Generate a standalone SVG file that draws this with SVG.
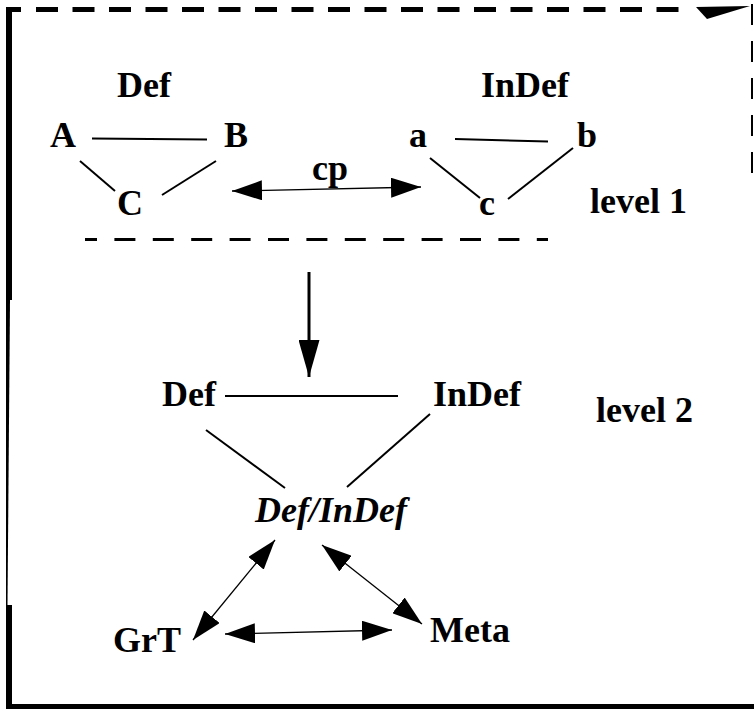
<svg xmlns="http://www.w3.org/2000/svg" width="754" height="709" viewBox="0 0 754 709">
  <style>
    .lbl { font-family: "Liberation Serif", "Times New Roman", serif; font-weight: bold; font-size: 36px; fill: #000; }
    .it { font-style: italic; }
    .edge { stroke: #000; stroke-width: 2; fill: none; }
    .thin { stroke: #000; stroke-width: 1.3; fill: none; }
  </style>
  <defs>
    <marker id="head" viewBox="0 0 30 20" refX="30" refY="10" markerWidth="30" markerHeight="20" markerUnits="userSpaceOnUse" orient="auto-start-reverse">
      <path d="M0,0 L30,10 L0,20 Z" fill="#000"/>
    </marker>
    <marker id="bigHead" viewBox="0 0 37 21" refX="37" refY="10.5" markerWidth="37" markerHeight="21" markerUnits="userSpaceOnUse" orient="auto">
      <path d="M0,0 L37,10.5 L0,21 Z" fill="#000"/>
    </marker>
  </defs>
  <rect width="754" height="709" fill="#fff"/>

  <!-- frame -->
  <g id="frame">
    <rect x="6" y="7" width="6" height="293" fill="#000"/>
    <polygon points="6,300 10,300 7.5,605 6,605" fill="#000"/>
    <rect x="6" y="605" width="6" height="104" fill="#000"/>
    <rect x="6" y="7" width="15" height="5" fill="#000"/>
    <line x1="36" y1="9.5" x2="680" y2="9.5" stroke="#000" stroke-width="5" stroke-dasharray="22 14.5"/>
    <polygon points="696,7 750,6 707,19" fill="#000"/>
    <line x1="752" y1="4" x2="752" y2="175" stroke="#000" stroke-width="2" stroke-dasharray="21 16"/>
    <rect x="12" y="704" width="742" height="5" fill="#000"/>
  </g>

  <!-- level separator -->
  <line x1="85" y1="239.5" x2="548" y2="239.5" stroke="#000" stroke-width="3" stroke-dasharray="21 17.4" stroke-dashoffset="9"/>

  <!-- level 1 -->
  <g id="def-title"><text class="lbl" x="117" y="97">Def</text></g>
  <g id="indef-title"><text class="lbl" x="481" y="97">InDef</text></g>
  <g id="node-A"><text class="lbl" x="50" y="147">A</text></g>
  <g id="node-B"><text class="lbl" x="224" y="147">B</text></g>
  <g id="node-C"><text class="lbl" x="117" y="215">C</text></g>
  <g id="node-a"><text class="lbl" x="409" y="147">a</text></g>
  <g id="node-b"><text class="lbl" x="577" y="147">b</text></g>
  <g id="node-c"><text class="lbl" x="479" y="215">c</text></g>
  <g id="cp-label"><text class="lbl" x="312" y="180">cp</text></g>
  <g id="level1"><text class="lbl" x="590" y="213">level 1</text></g>

  <!-- level 2 -->
  <g id="def2"><text class="lbl" x="162" y="406">Def</text></g>
  <g id="indef2"><text class="lbl" x="433" y="406">InDef</text></g>
  <g id="level2"><text class="lbl" x="596" y="422">level 2</text></g>
  <g id="defindef"><text class="lbl it" x="255" y="522">Def/InDef</text></g>
  <g id="grt"><text class="lbl" x="113" y="652">GrT</text></g>
  <g id="meta"><text class="lbl" x="430" y="642">Meta</text></g>

  <g id="connectors">
    <line class="edge" x1="92" y1="138.5" x2="207" y2="139.5"/>
    <line class="edge" x1="80" y1="161" x2="115" y2="191"/>
    <line class="edge" x1="216" y1="161" x2="162" y2="195"/>
    <line class="edge" x1="455" y1="139" x2="548" y2="141.5"/>
    <line class="edge" x1="430" y1="158" x2="480" y2="198"/>
    <line class="edge" x1="573" y1="148" x2="508" y2="199"/>
    <line class="thin" x1="232" y1="191" x2="421" y2="187" marker-start="url(#head)" marker-end="url(#head)"/>
    <line x1="309" y1="272" x2="309" y2="377" stroke="#000" stroke-width="3" marker-end="url(#bigHead)"/>
    <line class="edge" x1="225" y1="396" x2="398" y2="396"/>
    <line class="edge" x1="206" y1="430" x2="285" y2="488"/>
    <line class="edge" x1="430" y1="414" x2="347" y2="487"/>
    <line class="thin" x1="275" y1="540" x2="193" y2="640" marker-start="url(#head)" marker-end="url(#head)"/>
    <line class="thin" x1="322" y1="545" x2="422" y2="624" marker-start="url(#head)" marker-end="url(#head)"/>
    <line class="thin" x1="225" y1="634" x2="392" y2="630" marker-start="url(#head)" marker-end="url(#head)"/>
  </g>
</svg>
